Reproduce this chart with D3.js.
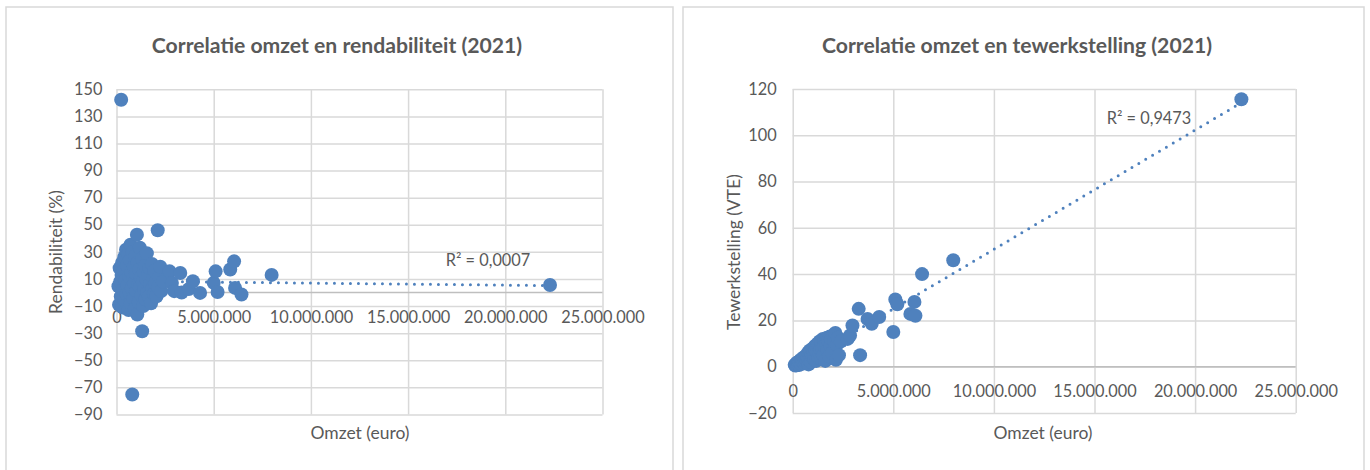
<!DOCTYPE html>
<html>
<head>
<meta charset="utf-8">
<script src="https://cdn.jsdelivr.net/npm/d3@7"></script>
<style>
  html, body { margin: 0; padding: 0; background: #ffffff; }
  svg { display: block; }
  text { font-family: Lato, "Open Sans", "Liberation Sans", sans-serif; fill: #595959; }
</style>
</head>
<body>
<svg id="chart" width="1370" height="470"></svg>
<script>
// ---------------- DATA ----------------
// omzet (euro) per bedrijf
const omzet = [
  100000, 130000, 160000, 190000, 220000, 240000, 260000, 290000, 310000, 340000,
  370000, 400000, 430000, 460000, 490000, 510000, 540000, 570000, 600000, 620000,
  650000, 680000, 700000, 720000, 740000, 760000, 790000, 810000, 830000, 850000,
  870000, 900000, 920000, 950000, 970000, 1000000, 1020000, 1050000, 1070000, 1090000,
  1110000, 1140000, 1170000, 1200000, 1220000, 1250000, 1280000, 1310000, 1320000, 1350000,
  1380000, 1410000, 1440000, 1470000, 1500000, 1530000, 1560000, 1590000, 1620000, 1660000,
  1700000, 1740000, 1780000, 1820000, 1850000, 1880000, 1920000, 1960000, 2000000, 2060000,
  2120000, 2150000, 2200000, 2250000, 2300000, 2400000,
  2730000, 2850000, 2970000, 3280000, 3350000, 3720000, 3930000, 4300000, 5000000, 5100000,
  5200000, 5850000, 6050000, 6100000, 6430000, 7980000, 22300000
];
// rendabiliteit (%) per bedrijf
const rendabiliteit = [
  4.6, -9, 18, 8, -3, 142.3, 13, 22, -11, 2,
  16, 26, -6, 9, 31.6, -1, 20, 5, 28, -13,
  12, 0, 24, 35.3, -8, 15, 3, -75.3, 30, 10,
  -4, 19, 7, -12, 27, 14, 1, 42.7, -16.3, 22,
  6, -7, 17, 33, 4, 11, -2, 25, -28.6, 8,
  -10, 15, 2, 20, -5, 10, 29, 0, 13, -3,
  18, 6, -8, 21, 3, 11, -1, 16, 7, -2.8,
  45.9, 4, 12, 19, 1, 8,
  15.6, 7, 1, 14.4, 0, 2.5, 8.3, -0.3, 7.1, 15.6,
  0.4, 17, 23, 3.4, -1.5, 13, 5.5
];
// tewerkstelling (VTE) per bedrijf
const tewerkstelling = [
  0.8, 0.5, 1.2, 0.6, 1.8, 1.0, 1.0, 2.0, 0.7, 2.4,
  1.5, 3.0, 1.2, 2.8, 3.5, 2.0, 4.0, 1.5, 3.2, 2.2,
  4.5, 3.0, 5.0, 2.5, 4.2, 6.0, 1.0, 3.0, 5.5, 7.0,
  3.5, 6.5, 2.0, 5.0, 7.5, 4.0, 8.0, 6.0, 5.0, 3.0,
  9.0, 7.0, 2.5, 8.5, 6.0, 10.0, 4.0, 9.5, 6.0, 11.0,
  7.5, 3.5, 10.5, 8.0, 12.0, 5.0, 9.0, 11.5, 2.5, 10.0,
  12.5, 7.0, 11.0, 4.5, 13.0, 9.0, 12.0, 6.0, 13.5, 11.0,
  14.6, 3.0, 9.5, 12.5, 5.0, 11.0,
  12, 13.5, 17.8, 25, 5, 20.6, 18.5, 21.5, 15, 29,
  27, 22.8, 28, 22, 40, 46, 115.5
];

// axis ticks
const xTicks = [0, 5000000, 10000000, 15000000, 20000000, 25000000];
const yTicksRend = [-90, -70, -50, -30, -10, 10, 30, 50, 70, 90, 110, 130, 150];
const yTicksVTE = [-20, 0, 20, 40, 60, 80, 100, 120];

// linear trendlines [intercept, slope per euro] and R² labels
const trendRend = [8.4, -0.149e-6];
const trendVTE = [-0.8, 5.15e-6];
const r2Rend = "R² = 0,0007";
const r2VTE = "R² = 0,9473";

// titles
const titleRend = "Correlatie omzet en rendabiliteit (2021)";
const titleVTE = "Correlatie omzet en tewerkstelling (2021)";
const xTitle = "Omzet (euro)";
const yTitleRend = "Rendabiliteit (%)";
const yTitleVTE = "Tewerkstelling (VTE)";

// ---------------- DRAWING ----------------
const svg = d3.select("#chart");
const nl = d3.formatLocale({decimal: ",", thousands: ".", grouping: [3], currency: ["€", ""]});
const fmtX = nl.format(",.0f");
const BLUE = "#4F81BD", GRID = "#D9D9D9", AXIS = "#BFBFBF";

function fitSize(str, weight, target) {
  const t = svg.append("text").attr("font-size", 100).attr("font-weight", weight).text(str);
  const w = t.node().getComputedTextLength();
  t.remove();
  return 100 * target / w;
}
const tickSize = fitSize("5.000.000", 400, 74);
const titleSize = (fitSize(titleRend, 700, 350) + fitSize(titleVTE, 700, 412)) / 2;
const axTitleSize = fitSize(xTitle, 400, 99);

// panels
svg.append("rect").attr("x", 6).attr("y", 7).attr("width", 667).attr("height", 480)
  .attr("fill", "#fff").attr("stroke", GRID).attr("stroke-width", 1.5);
svg.append("rect").attr("x", 683).attr("y", 7).attr("width", 681).attr("height", 480)
  .attr("fill", "#fff").attr("stroke", GRID).attr("stroke-width", 1.5);

function drawChart(o) {
  const g = svg.append("g");
  const x = d3.scaleLinear().domain([0, 25000000]).range(o.xr);
  const y = d3.scaleLinear().domain(o.yd).range(o.yr);

  // gridlines via axes
  g.append("g").attr("transform", `translate(0,${o.yr[0]})`)
    .call(d3.axisBottom(x).tickValues(xTicks).tickSize(-(o.yr[0] - o.yr[1])).tickFormat(""))
    .call(s => s.select(".domain").remove())
    .call(s => s.selectAll("line").attr("stroke", GRID).attr("stroke-width", 1.5));
  g.append("g").attr("transform", `translate(${o.xr[0]},0)`)
    .call(d3.axisLeft(y).tickValues(o.yt).tickSize(-(o.xr[1] - o.xr[0])).tickFormat(""))
    .call(s => s.select(".domain").remove())
    .call(s => s.selectAll("line").attr("stroke", GRID).attr("stroke-width", 1.5));

  // horizontal axis line at 0
  g.append("line").attr("x1", o.xr[0]).attr("x2", o.xr[1])
    .attr("y1", y(0)).attr("y2", y(0)).attr("stroke", AXIS).attr("stroke-width", 1.5);

  // tick labels
  const ax = g.append("g").attr("transform", `translate(0,${y(0)})`)
    .call(d3.axisBottom(x).tickValues(xTicks).tickSize(0).tickPadding(19).tickFormat(fmtX));
  ax.select(".domain").remove();
  ax.selectAll("text").attr("font-size", tickSize).attr("fill", "#595959")
    .style("font-family", "Lato, 'Open Sans', sans-serif");
  const ay = g.append("g").attr("transform", `translate(${o.xr[0]},0)`)
    .call(d3.axisLeft(y).tickValues(o.yt).tickSize(0).tickPadding(o.yPad).tickFormat(d3.format("d")));
  ay.select(".domain").remove();
  ay.selectAll("text").attr("font-size", tickSize).attr("fill", "#595959")
    .style("font-family", "Lato, 'Open Sans', sans-serif");

  // trendline (under markers)
  const xMin = d3.min(omzet), xMax = d3.max(omzet);
  const tl = [xMin, xMax].map(v => [v, o.trend[0] + o.trend[1] * v]);
  g.append("path").attr("d", d3.line().x(d => x(d[0])).y(d => y(d[1]))(tl))
    .attr("fill", "none").attr("stroke", BLUE).attr("stroke-width", 3)
    .attr("stroke-linecap", "round").attr("stroke-dasharray", "0 8");

  // markers
  g.append("g").selectAll("circle").data(omzet.map((v, i) => [v, o.vals[i]])).join("circle")
    .attr("cx", d => x(d[0])).attr("cy", d => y(d[1])).attr("r", 7).attr("fill", BLUE);

  // R² label
  g.append("text").attr("x", o.r2pos[0]).attr("y", o.r2pos[1]).attr("text-anchor", "middle")
    .attr("dominant-baseline", "central").attr("font-size", tickSize).text(o.r2);

  // title
  g.append("text").attr("x", o.titlePos[0]).attr("y", o.titlePos[1]).attr("text-anchor", "middle")
    .attr("dominant-baseline", "central").attr("font-weight", 700).attr("font-size", titleSize)
    .text(o.title);

  // axis titles
  g.append("text").attr("x", o.xTitlePos[0]).attr("y", o.xTitlePos[1]).attr("text-anchor", "middle")
    .attr("dominant-baseline", "central").attr("font-size", axTitleSize).text(xTitle);
  g.append("text").attr("transform", `translate(${o.yTitlePos[0]},${o.yTitlePos[1]}) rotate(-90)`)
    .attr("text-anchor", "middle").attr("dominant-baseline", "central")
    .attr("font-size", axTitleSize).text(o.yTitle);
}

drawChart({
  xr: [116.5, 602.5], yd: [-90, 150], yr: [414.4, 89.3], yt: yTicksRend, yPad: 14,
  vals: rendabiliteit, trend: trendRend, r2: r2Rend, r2pos: [488, 259],
  title: titleRend, titlePos: [337, 45],
  xTitlePos: [360, 432], yTitle: yTitleRend, yTitlePos: [55, 252]
});
drawChart({
  xr: [792.7, 1295.7], yd: [-20, 120], yr: [413, 88.9], yt: yTicksVTE, yPad: 16,
  vals: tewerkstelling, trend: trendVTE, r2: r2VTE, r2pos: [1149, 117],
  title: titleVTE, titlePos: [1017, 45],
  xTitlePos: [1043, 432], yTitle: yTitleVTE, yTitlePos: [733, 252]
});
</script>
</body>
</html>
